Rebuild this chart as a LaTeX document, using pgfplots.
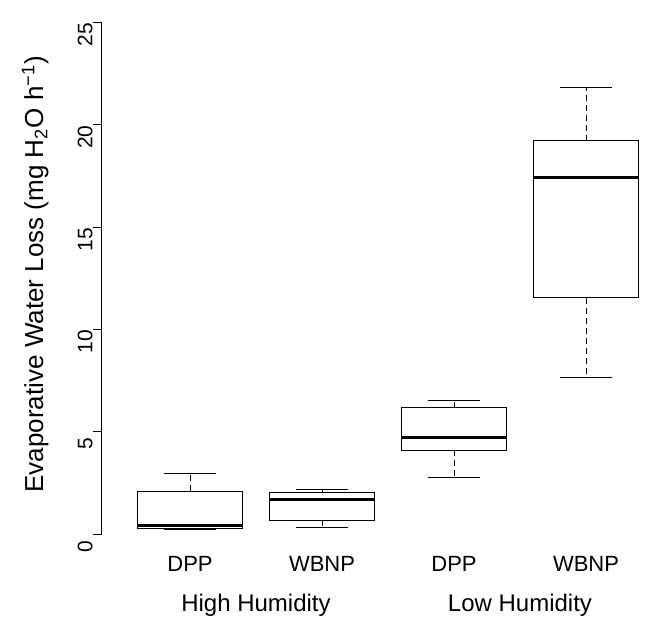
\documentclass[border=0pt]{standalone}
\usepackage{fontspec}
\setmainfont{Liberation Sans}
\usepackage{pgfplots}
\pgfplotsset{compat=1.18}
\usepgfplotslibrary{statistics}

\begin{document}
\begin{tikzpicture}[font=\fontsize{11}{13}\selectfont]
    \begin{axis}[
        scale only axis,
        width=272pt,
        height=255.75pt,
        xmin=0.3333, xmax=4.4545,
        ymin=0, ymax=25,
        axis y line=left,
        axis x line=none,
        y axis line style={-, line width=0.5pt},
        ytick={0,5,10,15,20,25},
        tick align=outside,
        ytick pos=left,
        major tick length=4.5pt,
        tick style={line width=0.5pt, black},
        /pgf/number format/assume math mode=true,
        yticklabel style={rotate=90, anchor=south, inner sep=0pt, xshift=-6.2pt,
            font=\fontsize{10.5}{12}\selectfont},
        clip=false,
        boxplot/draw direction=y,
        boxplot/every whisker/.style={dash pattern=on 3pt off 2pt},
        boxplot/every median/.style={line width=1.5pt},
    ]

        % krabice
        \addplot[black, line width=0.5pt, boxplot prepared={
            draw position=1, lower whisker=0.22, lower quartile=0.28,
            median=0.43, upper quartile=2.09, upper whisker=2.95,
            box extend=0.8, whisker extend=0}] coordinates {};
        \addplot[black, line width=0.5pt, boxplot prepared={
            draw position=2, lower whisker=0.34, lower quartile=0.67,
            median=1.71, upper quartile=2.04, upper whisker=2.17,
            box extend=0.8, whisker extend=0}] coordinates {};
        \addplot[black, line width=0.5pt, boxplot prepared={
            draw position=3, lower whisker=2.75, lower quartile=4.09,
            median=4.71, upper quartile=6.16, upper whisker=6.52,
            box extend=0.8, whisker extend=0}] coordinates {};
        \addplot[black, line width=0.5pt, boxplot prepared={
            draw position=4, lower whisker=7.67, lower quartile=11.55,
            median=17.43, upper quartile=19.21, upper whisker=21.83,
            box extend=0.8, whisker extend=0}] coordinates {};

        % zarážky vousů
        \addplot[black, line width=0.5pt] coordinates {(0.8,2.95) (1.2,2.95)};
        \addplot[black, line width=0.5pt] coordinates {(0.8,0.22) (1.2,0.22)};
        \addplot[black, line width=0.5pt] coordinates {(1.8,2.17) (2.2,2.17)};
        \addplot[black, line width=0.5pt] coordinates {(1.8,0.34) (2.2,0.34)};
        \addplot[black, line width=0.5pt] coordinates {(2.8,6.52) (3.2,6.52)};
        \addplot[black, line width=0.5pt] coordinates {(2.8,2.75) (3.2,2.75)};
        \addplot[black, line width=0.5pt] coordinates {(3.8,21.83) (4.2,21.83)};
        \addplot[black, line width=0.5pt] coordinates {(3.8,7.67) (4.2,7.67)};

        % popisky
        \node[anchor=base, yshift=-18.8pt] at (axis cs:1,0) {DPP};
        \node[anchor=base, yshift=-18.8pt] at (axis cs:2,0) {WBNP};
        \node[anchor=base, yshift=-18.8pt] at (axis cs:3,0) {DPP};
        \node[anchor=base, yshift=-18.8pt] at (axis cs:4,0) {WBNP};
        \node[anchor=base, yshift=-38.5pt, font=\fontsize{12}{14}\selectfont]
            at (axis cs:1.5,0) {High Humidity};
        \node[anchor=base, yshift=-38.5pt, font=\fontsize{12}{14}\selectfont]
            at (axis cs:3.5,0) {Low Humidity};

        \node[rotate=90, anchor=base, font=\fontsize{13}{15}\selectfont]
            at (axis cs:-0.1136,12.7)
            {Evaporative Water Loss (mg H\textsubscript{2}O h\textsuperscript{−1})};

        \coordinate (bl) at (axis cs:-0.4394,-4.057);
        \coordinate (tr) at (axis cs:4.4545,26.1);
    \end{axis}
    \pgfresetboundingbox
    \path (bl) rectangle (tr);
\end{tikzpicture}
\end{document}
